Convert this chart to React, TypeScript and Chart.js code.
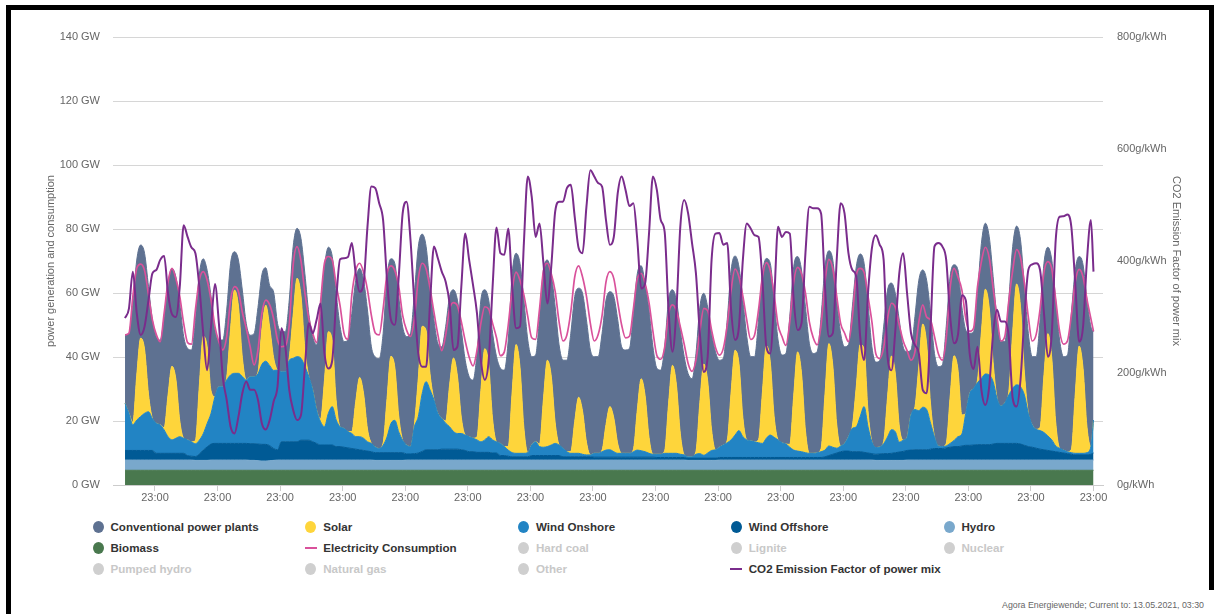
import React, { useEffect, useRef } from 'react';
import { Chart, registerables } from 'chart.js';

Chart.register(...registerables);

// ---- time axis: readings every 3 hours from day 1 00:00, last reading day 31 23:00 ----
const STEP_HOURS = 3;
const LAST_HOUR = 743;
const TICK_HOURS = [23, 71, 119, 167, 215, 263, 311, 359, 407, 455, 503, 551, 599, 647, 695, 743];
const TICK_LABEL = '23:00';

// ---- series (GW), 8 readings per day (00,03,06,09,12,15,18,21h), last day + 23h ----
const CONVENTIONAL = [
  21.4, 25.0, 37.2, 36.0, 29.1, 30.0, 33.6, 30.8,
  27.1, 26.5, 34.7, 34.9, 30.6, 31.9, 36.7, 31.8,
  28.6, 28.7, 37.6, 34.9, 24.2, 23.9, 29.5, 20.8,
  14.6, 14.6, 21.1, 20.4, 12.0, 14.4, 21.0, 17.7,
  13.0, 13.5, 20.2, 17.0, 11.7, 13.0, 20.5, 14.6,
  12.5, 12.5, 18.0, 21.4, 15.6, 17.9, 23.5, 19.6,
  16.7, 20.4, 34.1, 35.5, 26.4, 26.4, 33.6, 31.3,
  27.1, 28.6, 36.9, 37.9, 34.1, 35.4, 37.2, 30.2,
  28.1, 28.1, 34.2, 38.0, 30.5, 32.5, 37.2, 35.4,
  33.9, 35.4, 41.0, 41.1, 28.8, 26.2, 27.3, 25.0,
  21.9, 22.4, 29.5, 27.7, 21.3, 23.7, 27.3, 23.4,
  18.8, 18.2, 26.1, 28.3, 18.4, 20.2, 26.8, 26.6,
  23.5, 23.9, 33.3, 36.9, 28.5, 32.4, 39.9, 35.2,
  27.6, 27.1, 39.8, 40.4, 31.3, 32.0, 36.2, 31.3,
  27.5, 28.6, 36.9, 39.0, 34.1, 36.8, 38.2, 32.8,
  30.2, 30.2, 36.5, 38.9, 35.9, 38.0, 38.7, 33.3,
  32.3, 32.8, 42.5, 42.6, 35.3, 35.1, 39.8, 33.6,
  26.9, 26.3, 32.5, 32.4, 23.6, 26.4, 32.3, 30.7,
  26.0, 24.4, 30.5, 29.8, 22.1, 23.1, 30.0, 30.6,
  27.2, 27.1, 37.6, 38.1, 29.5, 30.2, 36.7, 32.3,
  26.3, 26.6, 37.5, 37.0, 27.2, 30.7, 36.4, 31.2,
  27.4, 28.3, 39.9, 40.3, 29.8, 32.3, 38.6, 34.4,
  31.2, 31.6, 41.2, 39.8, 29.0, 33.0, 38.8, 35.2,
  30.2, 28.7, 37.3, 37.5, 28.3, 26.8, 33.6, 29.7,
  26.7, 27.0, 35.8, 33.4, 22.8, 25.2, 33.1, 29.1,
  26.8, 20.3, 28.2, 26.8, 16.9, 19.9, 28.3, 26.0,
  24.8, 25.5, 36.5, 37.6, 28.4, 31.1, 33.8, 26.0,
  18.8, 17.7, 27.1, 27.7, 20.6, 22.2, 26.8, 24.5,
  20.1, 19.1, 28.7, 26.8, 18.1, 20.9, 26.9, 25.0,
  21.3, 22.7, 33.6, 34.9, 27.0, 30.7, 38.1, 33.8,
  29.2, 30.2, 42.5, 38.8, 28.0, 32.4, 39.7, 37.5, 27.6,
];

const SOLAR = [
  0, 0, 0.8, 14.0, 24.5, 20.0, 5.5, 0,
  0, 0, 0.7, 13.0, 23.0, 18.5, 5.0, 0,
  0, 0, 1.0, 17.0, 30.5, 24.0, 7.0, 0,
  0, 0, 0.8, 14.5, 26.0, 21.0, 6.0, 0,
  0, 0, 0.6, 11.0, 17.5, 12.0, 4.0, 0,
  0, 0, 0.8, 13.5, 24.5, 19.5, 5.5, 0,
  0, 0, 0.8, 14.5, 25.5, 20.5, 6.0, 0,
  0, 0, 0.6, 11.0, 18.5, 14.0, 4.0, 0,
  0, 0, 0.7, 12.0, 21.0, 16.5, 5.0, 0,
  0, 0, 0.7, 12.0, 21.0, 16.0, 5.0, 0,
  0, 0, 0.7, 13.0, 23.0, 18.0, 5.0, 0,
  0, 0, 0.9, 16.0, 28.5, 22.5, 6.5, 0,
  0, 0, 1.1, 19.0, 34.0, 27.0, 8.0, 0,
  0, 0, 0.8, 15.0, 27.0, 21.5, 6.5, 0,
  0, 0, 0.6, 10.0, 17.5, 13.5, 4.0, 0,
  0, 0, 0.5, 8.0, 13.5, 10.5, 3.0, 0,
  0, 0, 0.7, 12.5, 22.5, 17.5, 5.0, 0,
  0, 0, 0.8, 15.5, 27.5, 21.5, 6.5, 0,
  0, 0, 0.9, 16.0, 28.5, 22.5, 6.5, 0,
  0, 0, 0.8, 15.0, 26.5, 21.0, 6.0, 0,
  0, 0, 0.9, 16.0, 29.0, 23.0, 6.5, 0,
  0, 0, 0.9, 17.0, 31.0, 24.5, 7.0, 0,
  0, 0, 1.0, 17.5, 32.0, 25.5, 7.5, 0,
  0, 0, 0.7, 12.5, 22.5, 18.0, 5.0, 0,
  0, 0, 0.7, 12.5, 23.0, 18.0, 5.0, 0,
  0, 0, 0.8, 14.0, 26.0, 20.5, 6.0, 0,
  0, 0, 0.8, 14.5, 26.5, 21.0, 6.0, 0,
  0, 0, 0.8, 14.5, 26.5, 21.0, 6.0, 0,
  0, 0, 1.0, 17.5, 31.5, 25.0, 7.0, 0,
  0, 0, 1.0, 18.0, 32.0, 25.5, 7.5, 0,
  0, 0, 1.0, 18.5, 33.5, 26.5, 8.0, 0, 0,
];

const WIND_ONSHORE = [
  14.7, 11.6, 8.0, 9.5, 10.6, 11.6, 12.1, 10.0,
  9.4, 8.9, 7.3, 5.2, 4.2, 4.7, 5.2, 4.7,
  4.9, 4.5, 4.0, 4.3, 5.1, 7.3, 9.6, 14.6,
  17.7, 17.7, 19.8, 21.4, 21.9, 21.9, 20.9, 19.8,
  20.9, 20.9, 21.9, 25.0, 26.0, 25.0, 24.4, 24.9,
  21.9, 21.9, 25.5, 26.1, 26.6, 25.6, 23.0, 19.9,
  16.2, 10.4, 7.3, 5.7, 9.9, 12.0, 8.3, 6.2,
  5.9, 5.1, 4.7, 3.9, 4.1, 3.8, 2.9, 2.6,
  1.8, 1.3, 2.3, 4.9, 9.1, 10.1, 6.5, 3.9,
  2.8, 2.3, 8.4, 11.4, 18.1, 21.3, 18.7, 15.6,
  11.4, 9.6, 8.1, 7.0, 5.5, 4.9, 5.1, 4.8,
  4.7, 4.2, 3.9, 3.3, 3.9, 4.9, 4.1, 3.5,
  3.8, 2.8, 1.9, 1.3, 1.1, 1.1, 1.1, 1.3,
  3.3, 4.3, 2.8, 2.6, 2.8, 3.3, 3.8, 3.3,
  2.7, 1.6, 1.1, 1.1, 1.1, 0.8, 0.6, 0.6,
  1.2, 1.2, 1.7, 2.2, 2.3, 1.7, 1.2, 1.2,
  1.2, 1.2, 1.7, 2.2, 2.0, 1.7, 1.2, 0.9,
  1.0, 1.0, 1.3, 1.3, 1.3, 1.3, 1.0, 0.8,
  0.4, 0.4, 1.2, 1.4, 0.9, 1.6, 2.4, 2.6,
  3.2, 3.9, 4.6, 5.5, 7.0, 8.4, 6.5, 5.5,
  5.2, 4.9, 4.6, 4.4, 6.0, 7.0, 6.3, 5.5,
  4.6, 4.2, 3.2, 2.3, 2.0, 1.8, 1.5, 1.3,
  1.3, 1.5, 1.8, 2.1, 3.0, 2.2, 1.5, 1.8,
  2.4, 4.5, 7.3, 7.8, 11.0, 14.3, 8.2, 3.7,
  2.1, 2.2, 3.1, 5.2, 7.4, 6.5, 3.1, 3.5,
  4.1, 11.0, 12.6, 12.2, 13.3, 12.6, 8.1, 3.7,
  0.8, 0.6, 0.6, 1.2, 1.9, 3.1, 3.7, 10.0,
  16.2, 17.7, 19.4, 20.7, 22.1, 21.8, 19.5, 14.1,
  11.7, 12.7, 15.1, 17.2, 18.3, 17.9, 15.7, 10.4,
  7.0, 5.9, 5.8, 5.4, 4.5, 3.5, 1.8, 1.3,
  0.9, 0.6, 0.5, 0.5, 0.5, 0.5, 0.7, 2.4, 10.3,
];

const WIND_OFFSHORE = [
  3.0, 3.0, 3.0, 3.0, 3.0, 3.0, 3.0, 3.0,
  2.1, 2.1, 2.1, 2.1, 2.1, 2.1, 2.1, 2.1,
  1.4, 1.2, 1.2, 2.0, 3.2, 4.2, 5.0, 5.2,
  5.2, 5.2, 5.2, 5.2, 5.2, 5.2, 5.2, 5.2,
  5.2, 5.2, 5.2, 5.2, 5.2, 4.7, 3.7, 3.2,
  5.7, 5.7, 5.7, 5.7, 5.7, 6.2, 6.2, 6.2,
  5.7, 5.2, 4.7, 4.7, 4.7, 4.7, 4.2, 4.2,
  4.0, 3.8, 3.6, 3.4, 3.2, 3.0, 2.8, 2.6,
  2.4, 2.4, 2.4, 2.4, 2.4, 2.4, 2.4, 2.4,
  1.9, 1.9, 2.0, 2.2, 2.7, 3.2, 3.2, 3.2,
  3.2, 3.4, 3.4, 3.4, 3.4, 3.4, 3.2, 3.0,
  2.6, 2.6, 2.4, 2.4, 2.4, 2.4, 2.2, 2.2,
  1.4, 1.4, 1.2, 1.0, 1.0, 1.0, 1.0, 1.0,
  1.4, 1.4, 1.4, 1.4, 1.4, 1.4, 1.4, 1.4,
  1.0, 1.0, 1.0, 1.0, 1.0, 1.0, 1.0, 1.0,
  0.9, 0.9, 0.9, 0.9, 0.9, 0.9, 0.9, 0.9,
  0.9, 0.9, 0.9, 0.9, 0.9, 0.9, 0.9, 0.9,
  0.8, 0.8, 0.8, 0.8, 0.8, 0.8, 0.8, 0.8,
  0.7, 0.7, 0.7, 0.7, 0.7, 0.7, 0.7, 0.7,
  0.8, 0.8, 0.8, 0.8, 0.8, 0.8, 0.8, 0.8,
  0.8, 0.8, 0.8, 0.8, 0.8, 0.8, 0.8, 0.8,
  0.8, 0.8, 0.8, 0.8, 0.8, 0.8, 0.8, 0.8,
  0.8, 0.8, 0.8, 1.0, 1.4, 1.8, 2.2, 2.6,
  2.8, 2.8, 2.6, 2.6, 2.6, 2.4, 2.2, 2.0,
  1.9, 2.0, 2.1, 2.1, 2.2, 2.4, 2.6, 2.8,
  3.0, 3.1, 3.2, 3.2, 3.2, 3.2, 3.4, 3.6,
  3.6, 3.6, 3.8, 4.0, 4.2, 4.2, 4.4, 4.6,
  4.6, 4.7, 4.8, 4.8, 4.8, 4.8, 5.0, 5.2,
  5.2, 5.2, 5.2, 5.2, 5.2, 5.0, 4.6, 4.2,
  4.0, 3.7, 3.4, 3.2, 3.0, 2.8, 2.6, 2.4,
  2.2, 2.0, 1.8, 1.6, 1.6, 1.6, 1.6, 1.8, 2.2,
];

const HYDRO = [
  3.2, 3.2, 3.2, 3.2, 3.2, 3.2, 3.2, 3.2,
  3.2, 3.2, 3.2, 3.2, 3.2, 3.2, 3.2, 3.2,
  3.2, 3.2, 3.1, 3.1, 3.1, 3.1, 3.2, 3.2,
  3.2, 3.2, 3.2, 3.2, 3.2, 3.2, 3.2, 3.2,
  3.1, 3.1, 3.0, 2.9, 2.9, 3.0, 3.1, 3.2,
  3.2, 3.2, 3.2, 3.2, 3.2, 3.2, 3.2, 3.2,
  3.2, 3.2, 3.2, 3.2, 3.2, 3.2, 3.2, 3.2,
  3.2, 3.2, 3.2, 3.2, 3.2, 3.2, 3.2, 3.2,
  3.1, 3.1, 3.1, 3.1, 3.1, 3.1, 3.1, 3.1,
  3.2, 3.2, 3.2, 3.2, 3.2, 3.2, 3.2, 3.2,
  3.2, 3.2, 3.2, 3.2, 3.2, 3.2, 3.2, 3.2,
  3.2, 3.2, 3.2, 3.2, 3.2, 3.2, 3.2, 3.2,
  3.2, 3.2, 3.2, 3.2, 3.2, 3.2, 3.2, 3.2,
  3.2, 3.2, 3.2, 3.2, 3.2, 3.2, 3.2, 3.2,
  3.2, 3.2, 3.2, 3.2, 3.2, 3.2, 3.2, 3.2,
  3.2, 3.2, 3.2, 3.2, 3.2, 3.2, 3.2, 3.2,
  3.2, 3.2, 3.2, 3.2, 3.2, 3.2, 3.2, 3.2,
  3.2, 3.2, 3.2, 3.2, 3.2, 3.2, 3.2, 3.2,
  3.1, 3.1, 3.1, 3.1, 3.1, 3.1, 3.1, 3.1,
  3.2, 3.2, 3.2, 3.2, 3.2, 3.2, 3.2, 3.2,
  3.2, 3.2, 3.2, 3.2, 3.2, 3.2, 3.2, 3.2,
  3.2, 3.2, 3.2, 3.2, 3.2, 3.2, 3.2, 3.2,
  3.2, 3.2, 3.2, 3.2, 3.2, 3.2, 3.2, 3.2,
  3.2, 3.2, 3.2, 3.2, 3.2, 3.2, 3.2, 3.2,
  3.1, 3.1, 3.1, 3.1, 3.1, 3.1, 3.1, 3.1,
  3.2, 3.2, 3.2, 3.2, 3.2, 3.2, 3.2, 3.2,
  3.2, 3.2, 3.2, 3.2, 3.2, 3.2, 3.2, 3.2,
  3.2, 3.2, 3.2, 3.2, 3.2, 3.2, 3.2, 3.2,
  3.2, 3.2, 3.2, 3.2, 3.2, 3.2, 3.2, 3.2,
  3.2, 3.2, 3.2, 3.2, 3.2, 3.2, 3.2, 3.2,
  3.2, 3.2, 3.2, 3.2, 3.2, 3.2, 3.2, 3.2, 3.2,
];

const BIOMASS = [
  4.6, 4.6, 4.6, 4.6, 4.6, 4.6, 4.6, 4.6,
  4.6, 4.6, 4.6, 4.6, 4.6, 4.6, 4.6, 4.6,
  4.6, 4.6, 4.6, 4.6, 4.6, 4.6, 4.6, 4.6,
  4.6, 4.6, 4.6, 4.6, 4.6, 4.6, 4.6, 4.6,
  4.6, 4.6, 4.6, 4.6, 4.6, 4.6, 4.6, 4.6,
  4.6, 4.6, 4.6, 4.6, 4.6, 4.6, 4.6, 4.6,
  4.6, 4.6, 4.6, 4.6, 4.6, 4.6, 4.6, 4.6,
  4.6, 4.6, 4.6, 4.6, 4.6, 4.6, 4.6, 4.6,
  4.6, 4.6, 4.6, 4.6, 4.6, 4.6, 4.6, 4.6,
  4.6, 4.6, 4.6, 4.6, 4.6, 4.6, 4.6, 4.6,
  4.6, 4.6, 4.6, 4.6, 4.6, 4.6, 4.6, 4.6,
  4.6, 4.6, 4.6, 4.6, 4.6, 4.6, 4.6, 4.6,
  4.6, 4.6, 4.6, 4.6, 4.6, 4.6, 4.6, 4.6,
  4.6, 4.6, 4.6, 4.6, 4.6, 4.6, 4.6, 4.6,
  4.6, 4.6, 4.6, 4.6, 4.6, 4.6, 4.6, 4.6,
  4.6, 4.6, 4.6, 4.6, 4.6, 4.6, 4.6, 4.6,
  4.6, 4.6, 4.6, 4.6, 4.6, 4.6, 4.6, 4.6,
  4.6, 4.6, 4.6, 4.6, 4.6, 4.6, 4.6, 4.6,
  4.6, 4.6, 4.6, 4.6, 4.6, 4.6, 4.6, 4.6,
  4.6, 4.6, 4.6, 4.6, 4.6, 4.6, 4.6, 4.6,
  4.6, 4.6, 4.6, 4.6, 4.6, 4.6, 4.6, 4.6,
  4.6, 4.6, 4.6, 4.6, 4.6, 4.6, 4.6, 4.6,
  4.6, 4.6, 4.6, 4.6, 4.6, 4.6, 4.6, 4.6,
  4.6, 4.6, 4.6, 4.6, 4.6, 4.6, 4.6, 4.6,
  4.6, 4.6, 4.6, 4.6, 4.6, 4.6, 4.6, 4.6,
  4.6, 4.6, 4.6, 4.6, 4.6, 4.6, 4.6, 4.6,
  4.6, 4.6, 4.6, 4.6, 4.6, 4.6, 4.6, 4.6,
  4.6, 4.6, 4.6, 4.6, 4.6, 4.6, 4.6, 4.6,
  4.6, 4.6, 4.6, 4.6, 4.6, 4.6, 4.6, 4.6,
  4.6, 4.6, 4.6, 4.6, 4.6, 4.6, 4.6, 4.6,
  4.6, 4.6, 4.6, 4.6, 4.6, 4.6, 4.6, 4.6, 4.6,
];

const CONSUMPTION = [
  46.9, 47.4, 58.9, 67.7, 69.0, 67.0, 59.5, 51.6,
  47.0, 44.8, 53.6, 63.5, 67.7, 64.5, 58.9, 50.5,
  44.5, 44.0, 54.7, 64.0, 66.7, 64.0, 57.8, 49.5,
  44.8, 42.2, 46.4, 57.8, 62.0, 60.5, 54.0, 49.0,
  43.2, 37.5, 42.2, 53.6, 57.8, 56.3, 52.0, 45.3,
  43.2, 43.5, 50.0, 68.8, 74.5, 70.0, 60.0, 52.0,
  47.4, 44.5, 57.0, 69.3, 71.4, 70.3, 62.5, 56.0,
  47.4, 45.5, 59.4, 67.0, 69.3, 66.5, 61.0, 53.0,
  47.5, 46.9, 55.0, 66.0, 68.5, 67.0, 62.0, 53.0,
  48.4, 46.4, 52.0, 64.5, 69.3, 67.5, 61.5, 54.0,
  47.0, 42.0, 46.9, 55.0, 57.0, 56.0, 51.0, 45.0,
  40.0, 37.2, 42.0, 50.5, 55.7, 55.0, 50.5, 46.0,
  40.4, 41.6, 50.0, 61.0, 66.5, 64.0, 59.4, 52.6,
  46.0, 45.5, 55.0, 67.0, 69.3, 66.0, 60.5, 51.0,
  45.0, 46.9, 54.2, 65.0, 68.5, 65.0, 59.0, 50.5,
  45.0, 47.0, 53.0, 63.5, 66.7, 64.5, 57.0, 50.0,
  46.0, 46.5, 55.0, 64.5, 66.1, 63.0, 57.0, 48.0,
  40.5, 39.3, 43.0, 53.5, 56.3, 54.5, 49.5, 44.0,
  38.0, 35.5, 39.0, 48.0, 55.2, 54.5, 48.4, 43.0,
  40.6, 42.7, 50.0, 61.0, 67.5, 65.0, 59.0, 51.5,
  45.5, 46.9, 54.7, 65.0, 69.5, 67.0, 59.5, 50.0,
  46.4, 43.6, 51.0, 63.5, 68.0, 66.0, 60.0, 51.0,
  46.0, 43.8, 50.0, 63.5, 70.5, 67.5, 59.0, 50.5,
  47.5, 44.8, 52.5, 65.5, 67.7, 66.5, 59.0, 51.0,
  41.0, 39.5, 43.0, 52.0, 56.8, 55.5, 50.0, 45.0,
  42.0, 39.0, 41.6, 51.0, 56.3, 52.5, 51.5, 46.4,
  41.0, 39.0, 45.8, 61.5, 67.7, 65.0, 61.0, 52.0,
  48.0, 49.0, 61.9, 69.8, 74.3, 71.0, 61.5, 52.5,
  45.0, 46.5, 57.5, 67.0, 73.6, 71.0, 63.0, 52.5,
  45.0, 47.0, 55.0, 66.5, 69.8, 67.5, 58.0, 48.0,
  44.0, 45.0, 53.0, 63.5, 67.4, 65.0, 58.0, 52.0, 48.0,
];

// g/kWh
const CO2_FACTOR = [
  298, 315, 381, 307, 268, 283, 330, 378,
  384, 402, 409, 342, 305, 300, 354, 464,
  443, 424, 414, 354, 271, 205, 283, 359,
  289, 193, 152, 104, 92, 122, 164, 185,
  170, 170, 152, 110, 99, 116, 149, 176,
  280, 247, 170, 134, 116, 125, 211, 289,
  271, 295, 324, 235, 208, 223, 330, 403,
  405, 407, 432, 378, 345, 360, 461, 533,
  530, 503, 473, 366, 295, 286, 372, 485,
  506, 438, 324, 235, 211, 211, 324, 426,
  405, 381, 363, 324, 241, 247, 354, 449,
  402, 357, 307, 223, 188, 223, 354, 460,
  414, 411, 458, 354, 280, 283, 432, 551,
  515, 443, 467, 396, 324, 390, 488, 506,
  506, 530, 536, 479, 423, 414, 497, 562,
  551, 539, 533, 473, 429, 443, 521, 551,
  527, 498, 503, 438, 351, 360, 449, 551,
  527, 473, 452, 312, 238, 312, 461, 509,
  485, 432, 378, 271, 202, 229, 402, 449,
  450, 429, 432, 312, 259, 283, 402, 467,
  458, 446, 443, 366, 247, 235, 330, 461,
  443, 452, 449, 330, 277, 289, 414, 497,
  494, 494, 485, 354, 265, 271, 402, 503,
  485, 414, 384, 372, 265, 223, 342, 423,
  446, 429, 402, 229, 205, 277, 378, 414,
  342, 271, 250, 235, 170, 164, 283, 426,
  432, 426, 402, 301, 253, 268, 339, 330,
  235, 207, 247, 170, 143, 176, 271, 313,
  292, 292, 265, 155, 140, 188, 301, 384,
  394, 396, 384, 307, 229, 271, 437, 479,
  480, 483, 461, 360, 256, 283, 402, 473, 381,
];

const HOURS = CONVENTIONAL.map((_, i) => Math.min(i * STEP_HOURS, LAST_HOUR));

// ---- styling ----
const FONT = "'Liberation Sans', Arial, Helvetica, sans-serif";
const C_CONV = '#5e7191';
const C_SOLAR = '#fed53b';
const C_ONSHORE = '#2284c4';
const C_OFFSHORE = '#005a95';
const C_HYDRO = '#79a8cc';
const C_BIOMASS = '#49784e';
const C_CONS = '#d9519b';
const C_CO2 = '#7a2c8c';
const C_OFF = '#cfcfcf';

const LEGEND_ITEMS: [string, string, string, boolean][] = [
  ['Conventional power plants', C_CONV, 'dot', true],
  ['Solar', C_SOLAR, 'dot', true],
  ['Wind Onshore', C_ONSHORE, 'dot', true],
  ['Wind Offshore', C_OFFSHORE, 'dot', true],
  ['Hydro', C_HYDRO, 'dot', true],
  ['Biomass', C_BIOMASS, 'dot', true],
  ['Electricity Consumption', C_CONS, 'line', true],
  ['Hard coal', C_OFF, 'dot', false],
  ['Lignite', C_OFF, 'dot', false],
  ['Nuclear', C_OFF, 'dot', false],
  ['Pumped hydro', C_OFF, 'dot', false],
  ['Natural gas', C_OFF, 'dot', false],
  ['Other', C_OFF, 'dot', false],
  ['CO2 Emission Factor of power mix', C_CO2, 'line', true],
];

const W = 1214;
const CANVAS_H = 510;
const PLOT_LEFT = 113;
const PLOT_RIGHT = 1103;
const PLOT_TOP = 37;
const PLOT_BOTTOM = 485;

const pts = (arr: number[]) => arr.map((y, i) => ({ x: HOURS[i], y }));

const area = (label: string, data: number[], color: string, fill: string) => ({
  label,
  data: pts(data),
  backgroundColor: color,
  borderColor: color,
  borderWidth: 1,
  fill,
  pointRadius: 0,
  cubicInterpolationMode: 'monotone',
  stack: 'gen',
  yAxisID: 'y',
});

export default function App() {
  const canvasRef = useRef<HTMLCanvasElement | null>(null);

  useEffect(() => {
    const canvas = canvasRef.current;
    if (!canvas) return;
    const tickFont = { family: FONT, size: 11 };
    const chart = new Chart(canvas, {
      type: 'line',
      data: {
        datasets: [
          {
            label: 'CO2 Emission Factor of power mix',
            data: pts(CO2_FACTOR),
            borderColor: C_CO2,
            borderWidth: 2,
            fill: false,
            pointRadius: 0,
            cubicInterpolationMode: 'monotone',
            yAxisID: 'y1',
          },
          {
            label: 'Electricity Consumption',
            data: pts(CONSUMPTION),
            borderColor: C_CONS,
            borderWidth: 1.7,
            fill: false,
            pointRadius: 0,
            cubicInterpolationMode: 'monotone',
            stack: 'cons',
            yAxisID: 'y',
          },
          area('Biomass', BIOMASS, C_BIOMASS, 'origin'),
          area('Hydro', HYDRO, C_HYDRO, '-1'),
          area('Wind Offshore', WIND_OFFSHORE, C_OFFSHORE, '-1'),
          area('Wind Onshore', WIND_ONSHORE, C_ONSHORE, '-1'),
          area('Solar', SOLAR, C_SOLAR, '-1'),
          area('Conventional power plants', CONVENTIONAL, C_CONV, '-1'),
        ] as any,
      },
      options: {
        animation: false,
        responsive: false,
        maintainAspectRatio: false,
        layout: { padding: { top: PLOT_TOP, left: 0, right: 0, bottom: 0 } },
        plugins: { legend: { display: false }, tooltip: { enabled: false } },
        scales: {
          x: {
            type: 'linear',
            min: 23 - (155 - PLOT_LEFT) / 1.3035,
            max: 743 + (PLOT_RIGHT - 1093.5) / 1.3035,
            afterBuildTicks: (axis: any) => {
              axis.ticks = TICK_HOURS.map((v) => ({ value: v }));
            },
            afterFit: (s: any) => {
              s.height = CANVAS_H - PLOT_BOTTOM;
            },
            ticks: {
              callback: () => TICK_LABEL,
              autoSkip: false,
              maxRotation: 0,
              padding: 0,
              color: '#666',
              font: tickFont,
            },
            grid: { drawOnChartArea: false, drawTicks: true, tickLength: 6, color: '#cccccc' },
            border: { display: true, color: '#cccccc', width: 1 },
          },
          y: {
            position: 'left',
            stacked: true,
            min: 0,
            max: 140,
            afterFit: (s: any) => {
              s.width = PLOT_LEFT;
            },
            ticks: {
              stepSize: 20,
              callback: (v: any) => `${v} GW`,
              padding: 13,
              color: '#666',
              font: tickFont,
            },
            grid: { color: '#d6d6d6', drawTicks: false, lineWidth: 1 },
            border: { display: false },
            title: {
              display: true,
              text: 'power generation and consumption',
              color: '#666',
              font: tickFont,
              padding: { top: 44, bottom: 0 },
            },
          },
          y1: {
            position: 'right',
            min: 0,
            max: 800,
            afterFit: (s: any) => {
              s.width = W - PLOT_RIGHT;
            },
            ticks: {
              stepSize: 200,
              callback: (v: any) => `${v}g/kWh`,
              padding: 14,
              color: '#666',
              font: tickFont,
            },
            grid: { drawOnChartArea: false, drawTicks: false },
            border: { display: false },
            title: {
              display: true,
              text: 'CO2 Emission Factor of power mix',
              color: '#666',
              font: tickFont,
              padding: { top: 31, bottom: 0 },
            },
          },
        },
      } as any,
    });
    return () => chart.destroy();
  }, []);

  const colX = (c: number) => 98 + c * 212.75;
  const rowY = (r: number) => 527 + r * 21;

  return (
    <div
      style={{
        position: 'absolute',
        left: 0,
        top: 0,
        width: W,
        height: 614,
        background: '#fff',
        overflow: 'hidden',
        fontFamily: FONT,
      }}
    >
      <canvas
        ref={canvasRef}
        width={W}
        height={CANVAS_H}
        style={{ position: 'absolute', left: 0, top: 0, width: W, height: CANVAS_H, display: 'block' }}
      />
      {LEGEND_ITEMS.map(([label, color, kind, active], i) => {
        const cx = colX(i % 5);
        const cy = rowY(Math.floor(i / 5));
        return (
          <React.Fragment key={label}>
            {kind === 'dot' ? (
              <div
                style={{
                  position: 'absolute',
                  left: cx - 5.5,
                  top: cy - 6,
                  width: 11,
                  height: 12,
                  borderRadius: '50%',
                  background: color,
                }}
              />
            ) : (
              <div
                style={{
                  position: 'absolute',
                  left: cx - 6,
                  top: cy - 1,
                  width: 12,
                  height: 2,
                  background: color,
                }}
              />
            )}
            <div
              style={{
                position: 'absolute',
                left: cx + 12.5,
                top: cy - 8,
                height: 16,
                lineHeight: '16px',
                fontSize: 11.6,
                fontWeight: 'bold',
                color: active ? '#333' : '#c8c8c8',
                whiteSpace: 'nowrap',
              }}
            >
              {label}
            </div>
          </React.Fragment>
        );
      })}
      <div
        style={{
          position: 'absolute',
          right: W - 1204,
          top: 599,
          lineHeight: '12px',
          fontSize: 8.8,
          color: '#666',
          whiteSpace: 'nowrap',
        }}
      >
        Agora Energiewende; Current to: 13.05.2021, 03:30
      </div>
      <div style={{ position: 'absolute', left: 6, top: 5, width: W - 6, height: 5, background: '#000' }} />
      <div style={{ position: 'absolute', left: 6, top: 5, width: 5, height: 614, background: '#000' }} />
      <div style={{ position: 'absolute', left: W - 5, top: 5, width: 5, height: 585, background: '#000' }} />
    </div>
  );
}
